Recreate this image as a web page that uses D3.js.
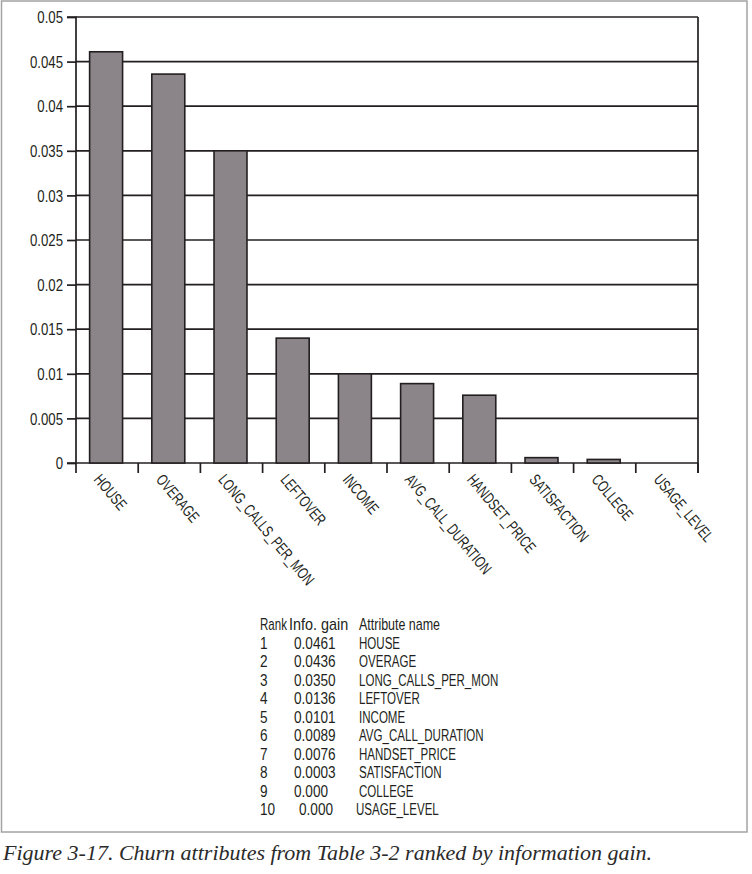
<!DOCTYPE html>
<html>
<head>
<meta charset="utf-8">
<script src="https://cdn.jsdelivr.net/npm/d3@7"></script>
<style>
  html, body { margin: 0; padding: 0; background: #ffffff; }
  svg { display: block; }
</style>
</head>
<body>
<svg id="chart" width="752" height="874"></svg>
<script>
// ---- data ----
const categories = ["HOUSE", "OVERAGE", "LONG_CALLS_PER_MON", "LEFTOVER", "INCOME",
  "AVG_CALL_DURATION", "HANDSET_PRICE", "SATISFACTION", "COLLEGE", "USAGE_LEVEL"];
const gains = [0.0461, 0.0436, 0.0350, 0.0140, 0.0100, 0.0089, 0.0076, 0.0006, 0.0004, 0];
const yTickValues = [0, 0.005, 0.01, 0.015, 0.02, 0.025, 0.03, 0.035, 0.04, 0.045, 0.05];
const yTickLabels = ["0", "0.005", "0.01", "0.015", "0.02", "0.025", "0.03", "0.035", "0.04", "0.045", "0.05"];

const tableHeader = ["Rank", "Info. gain", "Attribute name"];
const tableRanks = ["1", "2", "3", "4", "5", "6", "7", "8", "9", "10"];
const tableGains = ["0.0461", "0.0436", "0.0350", "0.0136", "0.0101", "0.0089", "0.0076", "0.0003", "0.000", "0.000"];
const tableNames = ["HOUSE", "OVERAGE", "LONG_CALLS_PER_MON", "LEFTOVER", "INCOME",
  "AVG_CALL_DURATION", "HANDSET_PRICE", "SATISFACTION", "COLLEGE", "USAGE_LEVEL"];
const caption = "Figure 3-17. Churn attributes from Table 3-2 ranked by information gain.";

// ---- layout ----
const svg = d3.select("#chart");
const ink = "#231f20";
const sansFont = "'Liberation Sans', Arial, sans-serif";
const plotL = 76, plotR = 698, plotT = 17, plotB = 463;

// outer figure frame
svg.append("rect")
  .attr("x", 1.5).attr("y", 1).attr("width", 745.5).attr("height", 831)
  .attr("fill", "none").attr("stroke", "#a3a3a3").attr("stroke-width", 1.5);

const y = d3.scaleLinear().domain([0, 0.05]).range([plotB, plotT]);
const xStep = d3.scaleBand().domain(categories).range([plotL, plotR]).padding(0);
const xBar = d3.scaleBand().domain(categories).range([plotL, plotR])
  .paddingInner(0.47).paddingOuter(0.235);

// gridlines
svg.append("g").selectAll("line").data(yTickValues).join("line")
  .attr("x1", plotL).attr("x2", plotR)
  .attr("y1", d => y(d)).attr("y2", d => y(d))
  .attr("stroke", ink).attr("stroke-width", 1.7);

// right border
svg.append("line")
  .attr("x1", plotR).attr("x2", plotR).attr("y1", y(0.05)).attr("y2", y(0) + 10)
  .attr("stroke", ink).attr("stroke-width", 1.7);

// bars
svg.append("g").selectAll("rect").data(categories).join("rect")
  .attr("x", d => xBar(d) - 1)
  .attr("width", xBar.bandwidth())
  .attr("y", (d, i) => y(gains[i]))
  .attr("height", (d, i) => y(0) - y(gains[i]))
  .attr("fill", "#8b858a")
  .attr("stroke", ink).attr("stroke-width", 1.6);

// y axis
const yAxis = d3.axisLeft(y).tickValues(yTickValues)
  .tickFormat((d, i) => yTickLabels[i]).tickSize(9).tickPadding(4);
const gy = svg.append("g").attr("transform", `translate(${plotL},0)`).call(yAxis);
gy.select(".domain").attr("stroke", ink).attr("stroke-width", 1.7)
  .attr("d", `M-9,${y(0)}H0V${y(0.05)}H-9`);
gy.selectAll(".tick line").attr("stroke", ink).attr("stroke-width", 1.7);
gy.selectAll(".tick text").attr("fill", ink)
  .attr("x", 0).attr("dy", "0.35em")
  .attr("transform", "translate(-13,0) scale(0.8,1)")
  .style("font-family", sansFont).style("font-size", "16.5px");

// x axis: baseline ticks at category boundaries
const boundaries = categories.map(c => xStep(c)).concat([plotR]);
svg.append("g").selectAll("line").data(boundaries).join("line")
  .attr("x1", d => d).attr("x2", d => d)
  .attr("y1", y(0)).attr("y2", y(0) + 10)
  .attr("stroke", ink).attr("stroke-width", 1.7);

// x labels
svg.append("g").selectAll("text").data(categories).join("text")
  .attr("transform", d => `translate(${xStep(d) + xStep.bandwidth() / 2 - 14},480) rotate(50) scale(0.72,1)`)
  .attr("text-anchor", "start")
  .attr("fill", ink)
  .style("font-family", sansFont).style("font-size", "16px")
  .text(d => d);

// ---- table ----
const colX = [260, 290, 359];
const headerScale = [0.72, 0.9, 0.78];
const headerY = 630, rowY0 = 648.5, rowStep = 18.5;
const tbl = svg.append("g").attr("fill", ink).style("font-family", sansFont);
const place = (x, yy, s) => `translate(${x},${yy}) scale(${s},1)`;
tbl.selectAll("text.h").data(tableHeader).join("text").attr("class", "h")
  .attr("transform", (d, i) => place(colX[i] - (i === 1 ? 1 : 0), headerY, headerScale[i]))
  .style("font-size", "16px").text(d => d);
tbl.selectAll("text.r").data(tableRanks).join("text").attr("class", "r")
  .attr("transform", (d, i) => place(colX[0], rowY0 + i * rowStep, 0.8))
  .style("font-size", "17px").text(d => d);
tbl.selectAll("text.g").data(tableGains).join("text").attr("class", "g")
  .attr("transform", (d, i) => place(colX[1] + 4 + (i >= 9 ? 5 : 0), rowY0 + i * rowStep, 0.8))
  .style("font-size", "17px").text(d => d);
tbl.selectAll("text.n").data(tableNames).join("text").attr("class", "n")
  .attr("transform", (d, i) => place(colX[2] + (i === 9 ? -3 : 0), rowY0 + i * rowStep, 0.7))
  .style("font-size", "16.5px").text(d => d);

// ---- caption ----
svg.append("text")
  .attr("x", 3).attr("y", 860)
  .attr("fill", "#2a2a2a")
  .style("font-family", "'Liberation Serif', 'DejaVu Serif', serif")
  .style("font-style", "italic").style("font-size", "22px")
  .text(caption);
</script>
</body>
</html>
